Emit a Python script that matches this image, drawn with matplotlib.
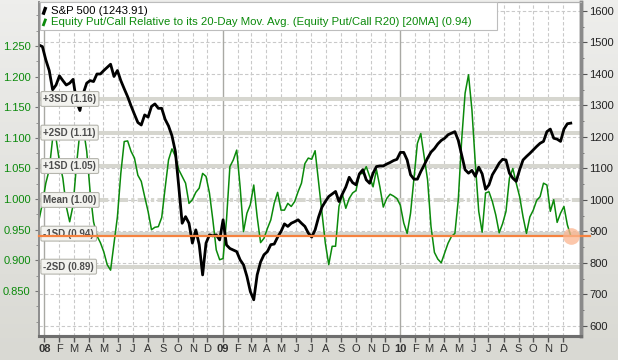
import numpy as np
import pandas as pd
import matplotlib
matplotlib.use("Agg")
from matplotlib import pyplot as plt
from matplotlib.colors import LinearSegmentedColormap
from matplotlib.ticker import FixedLocator, MultipleLocator, FormatStrFormatter
from matplotlib.transforms import blended_transform_factory

plt.rcParams["font.family"] = ["Liberation Sans", "DejaVu Sans"]

# weekly closes (Dec 2007 - Dec 2010)
weeks = pd.date_range("2007-12-21", periods=157, freq="7D")

sp500 = [
    1492, 1487, 1445, 1411, 1350, 1365, 1394, 1379, 1365, 1371, 1383, 1312, 1284, 1339,
    1371, 1379, 1376, 1400, 1400, 1411, 1421, 1431, 1392, 1411, 1379, 1353, 1328, 1299,
    1272, 1246, 1238, 1270, 1263, 1297, 1305, 1291, 1291, 1256, 1235, 1204, 1154, 1043,
    926, 947, 926, 863, 905, 858, 762, 863, 889, 886, 889, 873,
    937, 857, 846, 841, 836, 810, 794, 757, 709, 683, 762, 803, 826, 836, 858, 860, 882,
    900, 924, 916, 926, 931, 937, 926, 916, 895, 882, 905, 945, 977, 995, 1011, 1019,
    1027, 995, 1019, 1041, 1072, 1055, 1048, 1083, 1096, 1064, 1053, 1085, 1106, 1108,
    1108, 1114, 1119, 1125, 1129,
    1151, 1151, 1127, 1080, 1066, 1066, 1090, 1111, 1133, 1152, 1163, 1178, 1189, 1196,
    1207, 1212, 1217, 1189, 1143, 1096, 1085, 1094, 1075, 1104, 1083, 1034, 1048, 1080,
    1098, 1117, 1129, 1127, 1085, 1069, 1059, 1096, 1127, 1138, 1148, 1159, 1170, 1180,
    1186, 1217, 1225, 1196, 1193, 1186, 1225, 1242, 1243.91,
]

put_call_r20 = [
    0.966, 0.993, 1.026, 1.048, 1.099, 1.099, 1.061, 1.034, 0.988, 0.963, 0.990, 1.056,
    1.110, 1.116, 1.078, 1.012, 0.963, 0.940, 0.929, 0.914, 0.893, 0.884, 0.928, 0.971,
    1.042, 1.094, 1.095, 1.078, 1.067, 1.039, 1.029, 1.004, 0.980, 0.950, 0.954, 0.955,
    0.970, 1.018, 1.064, 1.082, 1.070, 1.048, 1.037, 1.026, 0.993, 0.999, 1.011, 1.018,
    1.042, 1.037, 1.010, 0.966, 0.917, 0.901,
    0.903, 0.966, 1.053, 1.064, 1.080, 1.020, 0.947, 0.977, 0.991, 1.023, 0.971, 0.929,
    0.936, 0.952, 0.966, 0.993, 1.011, 0.982, 0.982, 0.993, 0.988, 0.996, 1.012, 1.026,
    1.058, 1.067, 1.065, 1.079, 1.029, 0.980, 0.928, 0.893, 0.923, 0.923, 0.988, 1.008,
    0.985, 1.001, 1.010, 1.014, 1.041, 1.042, 1.053, 1.037, 1.020, 1.048, 1.020, 0.987,
    1.001, 1.008, 1.005, 1.001,
    0.990, 0.961, 0.944, 0.977, 1.034, 1.091, 1.107, 1.069, 1.031, 0.955, 0.913, 0.902,
    0.896, 0.912, 0.928, 0.939, 0.944, 0.999, 1.097, 1.173, 1.203, 1.146, 1.058, 0.980,
    0.946, 1.010, 1.012, 0.996, 0.974, 0.945, 0.960, 0.980, 1.034, 1.050, 1.026, 1.004,
    0.971, 0.944, 0.971, 0.982, 0.998, 1.004, 1.026, 1.023, 0.980, 0.999, 0.962, 0.977,
    0.988, 0.958, 0.940,
]

sd_names = ["+3SD (1.16)", "+2SD (1.11)", "+1SD (1.05)", "Mean (1.00)", "-1SD (0.94)", "-2SD (0.89)"]
sd_levels = [1.1635, 1.1085, 1.054, 0.9986, 0.9436, 0.8897]
last_ratio = 0.94

months = pd.date_range("2008-01-01", "2010-12-01", freq="MS")
month_labels = ["08", "F", "M", "A", "M", "J", "J", "A", "S", "O", "N", "D",
                "09", "F", "M", "A", "M", "J", "J", "A", "S", "O", "N", "D",
                "10", "F", "M", "A", "M", "J", "J", "A", "S", "O", "N", "D"]
sp_ticks = list(range(600, 1700, 100))
ratio_ticks = [0.85, 0.90, 0.95, 1.00, 1.05, 1.10, 1.15, 1.20, 1.25]

GREEN = "#0b8a0b"
BAND = "#d6d6cf"
ORANGE = "#f5823f"

fig = plt.figure(figsize=(6.18, 3.60), dpi=100)
bg = fig.add_axes([0, 0, 1, 1], zorder=-10)
grad = np.linspace(0, 1, 100).reshape(-1, 1)
bg.imshow(grad, aspect="auto", extent=(0, 1, 0, 1),
          cmap=LinearSegmentedColormap.from_list("bg", ["#eeeeec", "#d9d9d3"]))
bg.axis("off")

ax = fig.add_axes([39 / 618, 24 / 360, 542 / 618, 334 / 360])
ax2 = ax.twinx()
ax.set_facecolor("white")
ax2.patch.set_visible(False)

x0, x1 = pd.Timestamp("2007-12-21"), pd.Timestamp("2011-01-07")
ax.set_xlim(x0, x1)
ax.set_ylim(0.7765, 1.3218)
ax2.set_ylim(568, 1628.6)

# grid (drawn on the bottom axes, horizontal lines follow the S&P scale)
hgrid = blended_transform_factory(ax.transAxes, ax2.transData)
for v in sp_ticks:
    ax.plot([0, 1], [v, v], transform=hgrid, color="#c9c9c9", lw=0.8,
            ls=(0, (3, 2)), zorder=0.5)
for m in months:
    if m.month == 1:
        ax.axvline(m, color="#a9a9a4", lw=1.0, zorder=0.6)
    else:
        ax.axvline(m, color="#c9c9c9", lw=0.8, ls=(0, (3, 2)), zorder=0.5)

# SD bands
for name, lvl in zip(sd_names, sd_levels):
    ls = (0, (2.5, 0.8, 0.8, 0.8)) if name.startswith("Mean") else "-"
    ax.axhline(lvl, color=BAND, lw=2.9, ls=ls, zorder=1)

ax.plot(weeks, put_call_r20, color=GREEN, lw=1.1, zorder=2)
ax2.plot(weeks, sp500, color="black", lw=2.0, zorder=2)

# band labels, current-level line and legend sit on top
lbl = blended_transform_factory(ax2.transAxes, ax.transData)
for name, lvl in zip(sd_names, sd_levels):
    ax2.text(0.008, lvl, name, transform=lbl, fontsize=7, fontweight="bold",
             color="#4d4d4d", va="center", ha="left", zorder=5,
             bbox=dict(boxstyle="round,pad=0.25,rounding_size=0.15",
                       fc="#f3f3ef", ec="#b5b5ad", lw=0.8))

ax2.plot([0, 1.017], [last_ratio, last_ratio], transform=lbl, color=ORANGE,
         lw=1.6, clip_on=False, zorder=6)
ax2.plot([weeks[-1]], [last_ratio], transform=ax.transData, marker="o", ms=12,
         color="#fbb58f", alpha=0.75, mec="none", clip_on=False, zorder=7)

ax2.add_patch(plt.Rectangle((0.002, 0.915), 0.843, 0.085, transform=ax2.transAxes,
                            fc="white", ec="#bdbdbd", lw=0.8, zorder=8))
ax2.plot([0.0075, 0.0125], [0.962, 0.985], transform=ax2.transAxes, color="black",
         lw=2.4, solid_capstyle="butt", zorder=9)
ax2.plot([0.0075, 0.0125], [0.928, 0.950], transform=ax2.transAxes, color=GREEN,
         lw=2.0, solid_capstyle="butt", zorder=9)
ax2.text(0.022, 0.974, "S&P 500 (1243.91)", transform=ax2.transAxes, fontsize=8.2,
         color="black", va="center", ha="left", zorder=9)
ax2.text(0.022, 0.940,
         "Equity Put/Call Relative to its 20-Day Mov. Avg. (Equity Put/Call R20) [20MA] (0.94)",
         transform=ax2.transAxes, fontsize=8.2, color=GREEN, va="center", ha="left", zorder=9)

# axes and ticks
ax.xaxis.set_major_locator(FixedLocator([matplotlib.dates.date2num(m) for m in months]))
ax.set_xticklabels(month_labels)
for t, lab in zip(ax.get_xticklabels(), month_labels):
    if lab.isdigit():
        t.set_fontweight("bold")
ax.tick_params(axis="x", length=4, width=1, color="#555555", labelsize=8,
               labelcolor="#333333", pad=2)

ax.yaxis.set_major_locator(FixedLocator(ratio_ticks))
ax.yaxis.set_major_formatter(FormatStrFormatter("%.3f"))
ax.yaxis.set_minor_locator(MultipleLocator(0.025))
ax.tick_params(axis="y", which="major", length=3, color="#777777", labelsize=8,
               labelcolor=GREEN, pad=3)
ax.tick_params(axis="y", which="minor", length=2, color="#888888")

ax2.yaxis.set_major_locator(FixedLocator(sp_ticks))
ax2.yaxis.set_minor_locator(MultipleLocator(50))
ax2.tick_params(axis="y", which="major", length=4, color="#555555", labelsize=8,
                labelcolor="#222222", pad=2)
ax2.tick_params(axis="y", which="minor", length=2, color="#666666")

for a in (ax, ax2):
    a.spines["top"].set_color("#b0b0b0")
    a.spines["top"].set_linewidth(0.8)
    a.spines["left"].set_color("#8c8c8c")
    a.spines["left"].set_linewidth(1.2)
    a.spines["right"].set_color("#8a8a8a")
    a.spines["right"].set_linewidth(2.5)
    a.spines["bottom"].set_color("#6e6e6e")
    a.spines["bottom"].set_linewidth(2.2)

ax.set_zorder(1)
ax2.set_zorder(2)

fig.savefig("out.png", dpi=100)
